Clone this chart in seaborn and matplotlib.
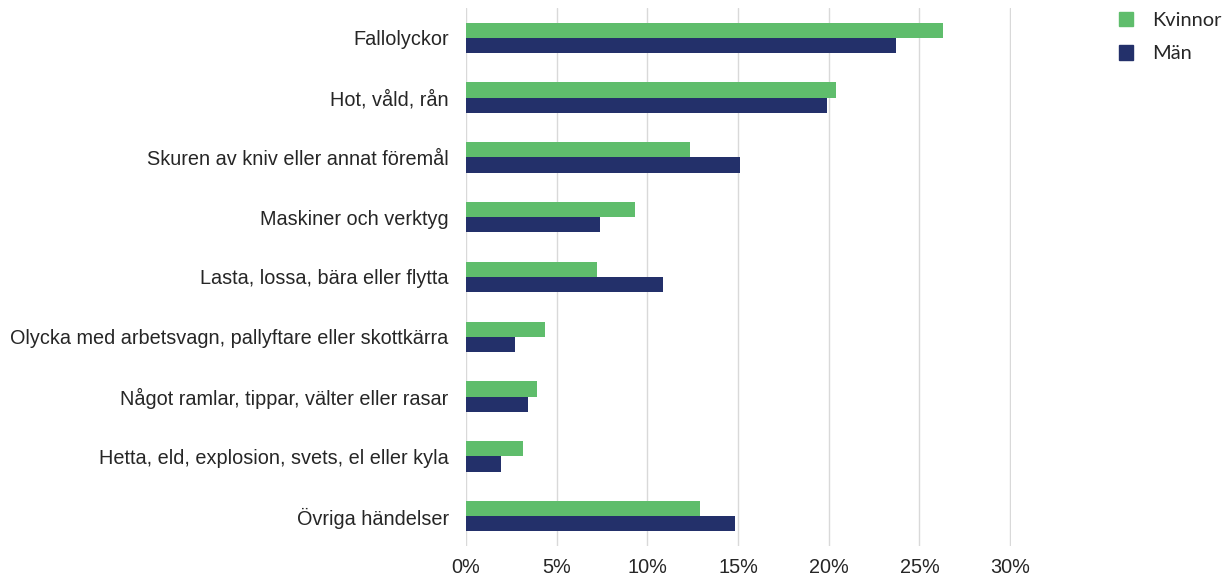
import pandas as pd
import seaborn as sns
import matplotlib.pyplot as plt
from matplotlib.ticker import PercentFormatter

# Andel arbetsolyckor per händelse, procent
kategorier = [
    "Fallolyckor",
    "Hot, våld, rån",
    "Skuren av kniv eller annat föremål",
    "Maskiner och verktyg",
    "Lasta, lossa, bära eller flytta",
    "Olycka med arbetsvagn, pallyftare eller skottkärra",
    "Något ramlar, tippar, välter eller rasar",
    "Hetta, eld, explosion, svets, el eller kyla",
    "Övriga händelser",
]
kvinnor = [26.3, 20.4, 12.35, 9.3, 7.2, 4.35, 3.9, 3.15, 12.9]
man = [23.7, 19.9, 15.1, 7.4, 10.85, 2.7, 3.4, 1.95, 14.85]
serier = ["Kvinnor", "Män"]
farger = ["#5fbd6c", "#23306a"]

df = pd.DataFrame({
    "kategori": kategorier * 2,
    "kon": [serier[0]] * len(kategorier) + [serier[1]] * len(kategorier),
    "andel": kvinnor + man,
})

sns.set_style("white")
plt.rcParams["font.family"] = ["Liberation Sans", "DejaVu Sans"]

fig = plt.figure(figsize=(12.25, 5.77), dpi=100)
ax = fig.add_axes([466 / 1225, 1 - 546 / 577, (1011 - 466) / 1225, 538 / 577])

sns.barplot(data=df, y="kategori", x="andel", hue="kon", palette=farger,
            order=kategorier, hue_order=serier, width=0.51, ax=ax,
            saturation=1, legend=False, orient="h", linewidth=0)

ax.set_xlim(0, 30.05)
ax.set_xticks(range(0, 31, 5))
ax.xaxis.set_major_formatter(PercentFormatter(decimals=0))
ax.grid(axis="x", color="#d9d9d9", linewidth=1)
ax.set_axisbelow(True)
for s in ax.spines.values():
    s.set_visible(False)
ax.set_xlabel("")
ax.set_ylabel("")
ax.tick_params(axis="both", length=0, labelsize=14.3, labelcolor="#262626")
ax.tick_params(axis="x", pad=8.5)
ax.tick_params(axis="y", pad=12.5)

handles = [plt.Rectangle((0, 0), 1, 1, color=c) for c in farger]
fig.legend(handles, serier, loc="upper left", bbox_to_anchor=(1101 / 1225, 1.01),
           frameon=False, handlelength=0.72, handleheight=0.72, handletextpad=0.95,
           labelspacing=0.8, prop={"family": "Lato", "size": 14.4})

fig.savefig("out.png", dpi=100)
